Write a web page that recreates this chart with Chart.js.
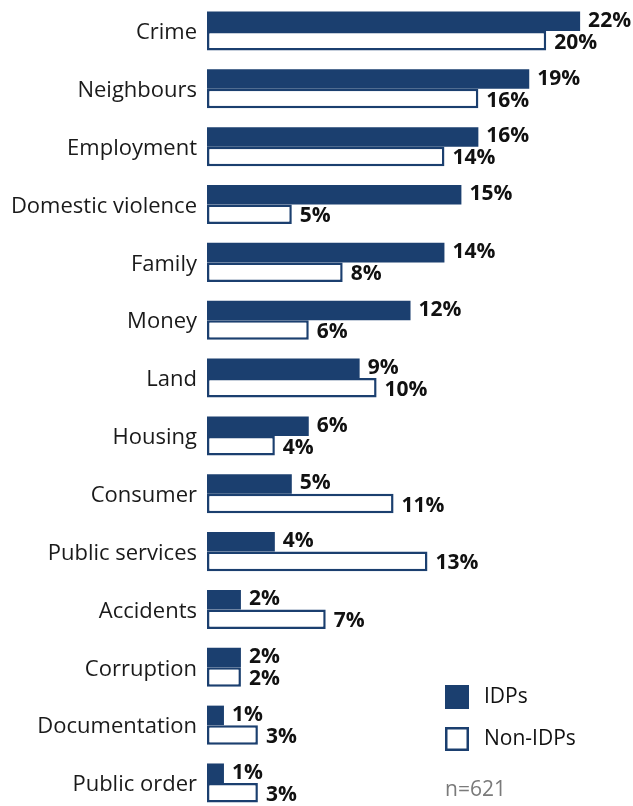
<!DOCTYPE html>
<html>
<head>
<meta charset="utf-8">
<script src="https://cdn.jsdelivr.net/npm/chart.js@4.4.1/dist/chart.umd.min.js"></script>
<style>
  html, body { margin: 0; padding: 0; background: #fff; }
  #wrap { width: 633px; height: 806px; position: relative; }
</style>
</head>
<body>
<div id="wrap"><canvas id="issuesChart"></canvas></div>
<script>
const categories = [
  "Crime", "Neighbours", "Employment", "Domestic violence", "Family", "Money", "Land",
  "Housing", "Consumer", "Public services", "Accidents", "Corruption", "Documentation", "Public order"
];
const idpValues = [22, 19, 16, 15, 14, 12, 9, 6, 5, 4, 2, 2, 1, 1];
const nonIdpValues = [20, 16, 14, 5, 8, 6, 10, 4, 11, 13, 7, 2, 3, 3];
const seriesNames = ["IDPs", "Non-IDPs"];
const sampleNote = "n=621";

const NAVY = "#1b3f6f";
const FONT = "'Open Sans', 'Noto Sans', sans-serif";

// percentage labels at the end of every bar
const valueLabels = {
  id: "valueLabels",
  afterDatasetsDraw(chart) {
    const ctx = chart.ctx;
    ctx.save();
    ctx.font = "bold 21px " + FONT;
    ctx.fillStyle = "#111";
    ctx.textBaseline = "middle";
    ctx.textAlign = "left";
    chart.data.datasets.forEach((ds, di) => {
      const meta = chart.getDatasetMeta(di);
      const dy = di === 0 ? -0.5 : 2;
      meta.data.forEach((bar, i) => {
        ctx.fillText(ds.data[i] + "%", bar.x + 8, bar.y + dy);
      });
    });
    ctx.restore();
  }
};

// legend boxes and sample size in the lower right corner
const cornerLegend = {
  id: "cornerLegend",
  afterDraw(chart) {
    const ctx = chart.ctx;
    const x = 445, box = 24;
    const rows = [697, 739];
    ctx.save();
    ctx.font = "21px " + FONT;
    ctx.textBaseline = "middle";
    chart.data.datasets.forEach((ds, di) => {
      const cy = rows[di];
      ctx.fillStyle = ds.backgroundColor;
      ctx.fillRect(x, cy - box / 2, box, box);
      if (ds.borderWidth) {
        ctx.strokeStyle = ds.borderColor;
        ctx.lineWidth = 2.5;
        ctx.strokeRect(x + 1.25, cy - box / 2 + 1.25, box - 2.5, box - 2.5);
      }
      ctx.fillStyle = "#111";
      ctx.fillText(ds.label, x + 39, cy);
    });
    ctx.fillStyle = "#7a7a7a";
    ctx.fillText(sampleNote, x, 790);
    ctx.restore();
  }
};

new Chart(document.getElementById("issuesChart").getContext("2d"), {
  type: "bar",
  data: {
    labels: categories,
    datasets: [
      {
        label: seriesNames[0],
        data: idpValues,
        backgroundColor: NAVY,
        borderWidth: 0,
        categoryPercentage: 0.675,
        barPercentage: 1,
        clip: false
      },
      {
        label: seriesNames[1],
        data: nonIdpValues,
        backgroundColor: "#ffffff",
        borderColor: NAVY,
        borderWidth: 2.5,
        borderSkipped: false,
        categoryPercentage: 0.675,
        barPercentage: 1,
        clip: false
      }
    ]
  },
  options: {
    indexAxis: "y",
    responsive: true,
    maintainAspectRatio: false,
    animation: false,
    layout: { padding: { top: 31, bottom: 23, left: 0, right: 2 } },
    plugins: {
      legend: { display: false },
      tooltip: { enabled: false }
    },
    scales: {
      x: { display: false, min: 0, max: 25 },
      y: {
        offset: false,
        grid: { display: false },
        border: { display: false },
        ticks: { color: "#1a1a1a", font: { family: FONT, size: 22 }, padding: 2, labelOffset: 2 },
        afterFit(scale) { scale.width = 207; }
      }
    }
  },
  plugins: [valueLabels, cornerLegend]
});
</script>
</body>
</html>
